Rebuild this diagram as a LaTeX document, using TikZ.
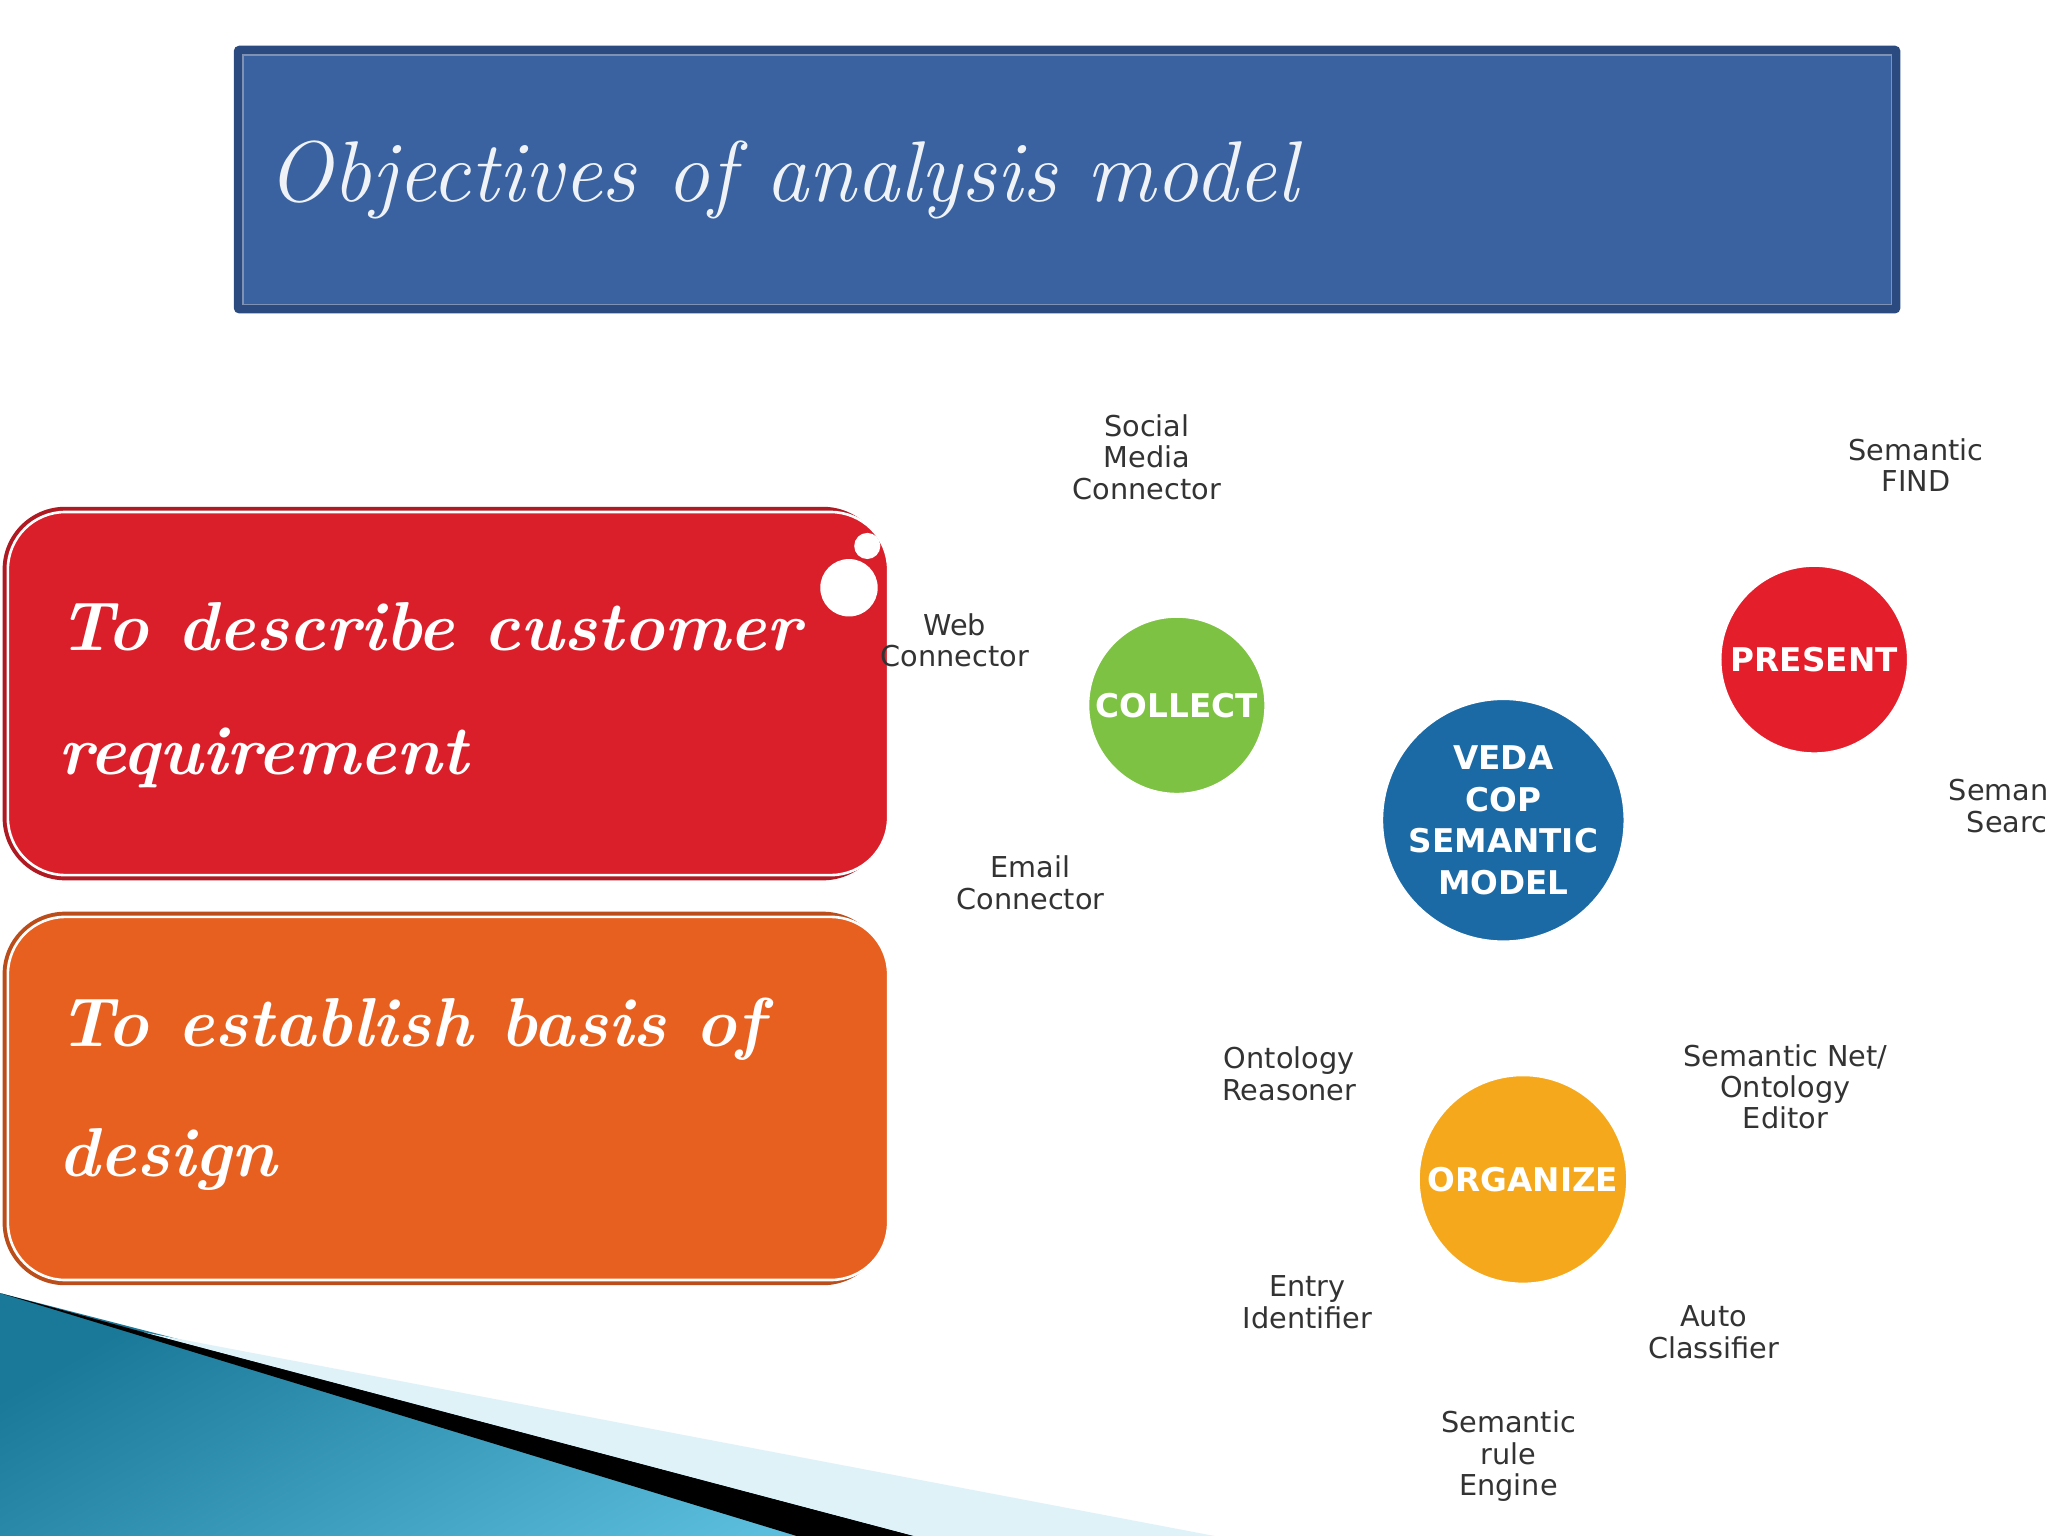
\documentclass[tikz,border=0pt]{standalone}
\usepackage{fontspec}
\setsansfont{DejaVu Sans}
\definecolor{tblue}{HTML}{3A62A0}
\definecolor{tbord}{HTML}{2A4A80}
\definecolor{bred}{HTML}{DA1F2A}
\definecolor{borange}{HTML}{E8601F}
\definecolor{cgreen}{HTML}{7DC242}
\definecolor{cred}{HTML}{E41E2B}
\definecolor{cblue}{HTML}{1B6AA5}
\definecolor{cyel}{HTML}{F5A81C}
\definecolor{teal1}{HTML}{1A7898}
\definecolor{teal2}{HTML}{5CBEDD}
\tikzset{
 lbl/.style={font=\sffamily\fontsize{11}{12}\selectfont, align=center, text=black!80},
 circ/.style={circle, draw=white, line width=1pt, text=white, font=\sffamily\bfseries\fontsize{12.5}{16}\selectfont, align=center, inner sep=0pt},
 script/.style={text=white, font=\rmfamily\bfseries\itshape\fontsize{26.5}{40}\selectfont, anchor=west},
 box/.style={rounded corners=22pt, draw=white, line width=1pt}
}
\begin{document}
\begin{tikzpicture}[x=0.5pt,y=-0.5pt]
\useasboundingbox (0,0) rectangle (1568,1176);
\fill[white] (0,0) rectangle (1568,1176);
% title
\fill[tbord, rounded corners=2pt] (179,35) rectangle (1455,240);
\fill[tblue] (186,42) rectangle (1448,233);
\draw[tbord!60, line width=0.6pt] (186,42) rectangle (1448,233);
\node[script, text=white!92!tblue, font=\rmfamily\itshape\fontsize{33}{40}\selectfont] (title) at (198,138) {Objectives of analysis model};
% boxes
\fill[bred!80!black, rounded corners=24pt] (2,388) rectangle (678,674);
\node[box, fill=bred, minimum width=337pt, minimum height=139pt, anchor=north west] (b1) at (5,391) {};
\fill[white] (650,450) circle (22);
\fill[white] (664,418) circle (10);
\node[script] (t1a) at (38,480) {To describe customer};
\node[script] (t1b) at (38,580) {requirement};
\fill[borange!80!black, rounded corners=24pt] (2,698) rectangle (678,984);
\node[box, fill=borange, minimum width=337pt, minimum height=139pt, anchor=north west] (b2) at (5,701) {};
\node[script] (t2a) at (38,788) {To establish basis of};
\node[script] (t2b) at (38,888) {design};
% swoosh
\shade[bottom color=teal2, top color=teal1, shading angle=30] (0,990) -- (720,1176) -- (0,1176) -- cycle;
\fill[black] (0,990) -- (110,1020) -- (700,1176) -- (610,1176) -- cycle;
\fill[teal2!20] (110,1020) -- (930,1176) -- (700,1176) -- cycle;
% circles
\node[circ, fill=cgreen, minimum size=68pt] (collect) at (901,540) {COLLECT};
\node[circ, fill=cred, minimum size=72pt] (present) at (1389,505) {PRESENT};
\node[circ, fill=cblue, minimum size=93pt] (veda) at (1151,628) {VEDA\\COP\\SEMANTIC\\MODEL};
\node[circ, fill=cyel, minimum size=80pt] (organize) at (1166,903) {ORGANIZE};
% labels
\node[lbl] (l1) at (878,350) {Social\\Media\\Connector};
\node[lbl] (l2) at (731,490) {Web\\Connector};
\node[lbl] (l3) at (789,676) {Email\\Connector};
\node[lbl] (l4) at (1467,356) {Semantic\\FIND};
\node[lbl, anchor=west] (l5) at (1485,617) {Semantic\\Search};
\node[lbl] (l6) at (987,822) {Ontology\\Reasoner};
\node[lbl] (l7) at (1367,832) {Semantic Net/\\Ontology\\Editor};
\node[lbl] (l8) at (1001,997) {Entry\\Identifier};
\node[lbl] (l9) at (1312,1020) {Auto\\Classifier};
\node[lbl] (l10) at (1155,1115) {Semantic\\rule\\Engine};
\end{tikzpicture}
\end{document}
